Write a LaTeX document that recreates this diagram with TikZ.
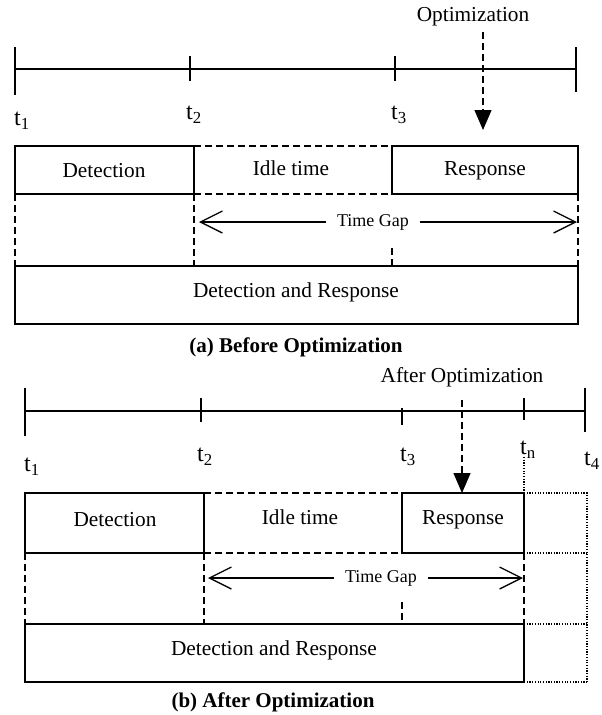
\documentclass[tikz,border=0pt]{standalone}
\usepackage{fontspec}
\setmainfont{Liberation Serif}
\usetikzlibrary{arrows.meta}
\begin{document}
\begin{tikzpicture}[x=1pt,y=-1pt,line width=1.3pt,
  lbl/.style={font=\fontsize{21.3}{25}\selectfont,inner sep=0pt},
  tlbl/.style={font=\fontsize{24}{28}\selectfont,inner sep=0pt},
  gaplbl/.style={font=\fontsize{18}{21}\selectfont,inner sep=0pt},
  caplbl/.style={font=\bfseries\fontsize{21}{25}\selectfont,inner sep=0pt},
  dashline/.style={dash pattern=on 7pt off 4pt},
  dotline/.style={line width=1.1pt,dash pattern=on 1.2pt off 1.5pt},
  optarrow/.style={dashline,-{Triangle[length=20pt,width=17pt]}},
  gaparrow/.style={-{Straight Barb[length=22pt,width=22pt,line width=1.3pt]}}]
\useasboundingbox (0,0) rectangle (602,715);

% ---------- (a) Before Optimization ----------
\draw (15,69) -- (576,69);
\draw (15,47) -- (15,95);
\draw (190,56) -- (190,81);
\draw (395,56) -- (395,81);
\draw (576,47) -- (576,92);
\node[tlbl] (a-t1) at (22,121) {t\textsubscript{1}};
\node[tlbl] (a-t2) at (194,115) {t\textsubscript{2}};
\node[tlbl] (a-t3) at (399,115) {t\textsubscript{3}};

\node[lbl] (a-opt) at (473,17) {Optimization};
\coordinate (a-opttop) at (483,32);
\coordinate (a-opttip) at (483,130);
\draw[optarrow] (a-opttop) -- (a-opttip);

\draw (15,146) rectangle (194,194);
\draw (392,146) rectangle (578,194);
\draw[dashline] (194,146) -- (392,146);
\draw[dashline] (194,194) -- (392,194);
\node[lbl] (a-det) at (104,171) {Detection};
\node[lbl] (a-idle) at (291,168) {Idle time};
\node[lbl] (a-resp) at (485,171) {Response};

\draw[dashline] (15,194) -- (15,266);
\draw[dashline] (194,194) -- (194,266);
\draw[dashline] (392,248) -- (392,266);
\draw[dashline] (578,194) -- (578,266);

\node[gaplbl] (a-gap) at (373,222) {Time Gap};
\coordinate (a-gapl) at (199,222);
\coordinate (a-gapr) at (577,222);
\draw[gaparrow] (a-gap.west) ++(-10,0) -- (a-gapl);
\draw[gaparrow] (a-gap.east) ++(10,0) -- (a-gapr);

\draw (15,266) rectangle (578,324);
\node[lbl] (a-dr) at (296,292) {Detection and Response};
\node[caplbl] (a-cap) at (296,347) {(a) Before Optimization};

% ---------- (b) After Optimization ----------
\draw (25,411) -- (585,411);
\draw (25,388) -- (25,436);
\draw (201,398) -- (201,422);
\draw (402,408) -- (402,425);
\draw (524,398) -- (524,420);
\draw (585,388) -- (585,432);
\node[tlbl] (b-t1) at (32,467) {t\textsubscript{1}};
\node[tlbl] (b-t2) at (205,457) {t\textsubscript{2}};
\node[tlbl] (b-t3) at (408,457) {t\textsubscript{3}};
\node[tlbl] (b-tn) at (528,450) {t\textsubscript{n}};
\node[tlbl] (b-t4) at (592,461) {t\textsubscript{4}};

\node[lbl] (b-opt) at (462,377) {After Optimization};
\coordinate (b-opttop) at (462,400);
\coordinate (b-opttip) at (462,493);
\draw[optarrow] (b-opttop) -- (b-opttip);

\draw (25,493) rectangle (204,553);
\draw (402,493) rectangle (524,553);
\draw[dashline] (204,493) -- (402,493);
\draw[dashline] (204,553) -- (402,553);
\node[lbl] (b-det) at (115,520) {Detection};
\node[lbl] (b-idle) at (300,517) {Idle time};
\node[lbl] (b-resp) at (463,520) {Response};

% extension of the original schedule up to t4
\draw[dotline] (524,457) -- (524,493);
\draw[dotline] (524,493) -- (587,493) -- (587,682);
\draw[dotline] (524,553) -- (587,553);
\draw[dotline] (524,624) -- (587,624);
\draw[dotline] (524,682) -- (587,682);

\draw[dashline] (25,553) -- (25,624);
\draw[dashline] (204,553) -- (204,624);
\draw[dashline] (402,602) -- (402,624);
\draw[dashline] (524,553) -- (524,624);

\node[gaplbl] (b-gap) at (381,578) {Time Gap};
\coordinate (b-gapl) at (208,578);
\coordinate (b-gapr) at (523,578);
\draw[gaparrow] (b-gap.west) ++(-10,0) -- (b-gapl);
\draw[gaparrow] (b-gap.east) ++(10,0) -- (b-gapr);

\draw (25,624) rectangle (524,682);
\node[lbl] (b-dr) at (274,650) {Detection and Response};
\node[caplbl] (b-cap) at (273,702) {(b) After Optimization};
\end{tikzpicture}
\end{document}
